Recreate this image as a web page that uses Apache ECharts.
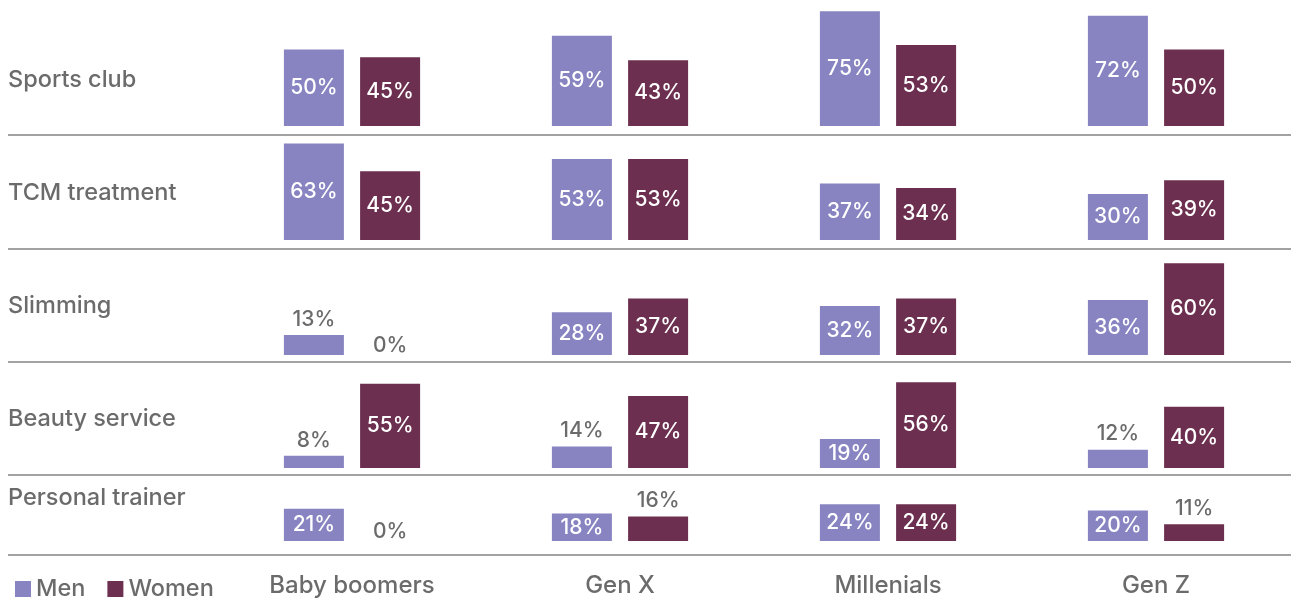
<!DOCTYPE html>
<html><head><meta charset="utf-8">
<script src="https://cdn.jsdelivr.net/npm/echarts@6/dist/echarts.min.js"></script>
<style>html,body{margin:0;padding:0;background:#fff}#c{width:1291px;height:598px}</style>
</head><body><div id="c"></div>
<script>
const generations = ['Baby boomers', 'Gen X', 'Millenials', 'Gen Z'];
const activities = ['Sports club', 'TCM treatment', 'Slimming', 'Beauty service', 'Personal trainer'];
const seriesNames = ['Men', 'Women'];
const menSportsClub = [50, 59, 75, 72];
const womenSportsClub = [45, 43, 53, 50];
const menTCM = [63, 53, 37, 30];
const womenTCM = [45, 53, 34, 39];
const menSlimming = [13, 28, 32, 36];
const womenSlimming = [0, 37, 37, 60];
const menBeauty = [8, 14, 19, 12];
const womenBeauty = [55, 47, 56, 40];
const menTrainer = [21, 18, 24, 20];
const womenTrainer = [0, 16, 24, 11];

const menRows = [menSportsClub, menTCM, menSlimming, menBeauty, menTrainer];
const womenRows = [womenSportsClub, womenTCM, womenSlimming, womenBeauty, womenTrainer];

const colors = ['#8784c1', '#6c2f4f'];
const gray = '#6b6b6b';
const FONT = 'Inter, "Open Sans", sans-serif';
const baselines = [126, 240, 355, 468, 541];
const lineYs = [135, 249, 362, 475, 555];
const labelYs = [80, 193, 306, 419, 498];
const YMAX = 80, PX = 1.53, H = YMAX * PX;

const grids = [], xAxes = [], yAxes = [], series = [], graphics = [];
baselines.forEach((b, i) => {
  grids.push({ left: 218, right: 1, top: b - H, height: H });
  const last = i === baselines.length - 1;
  xAxes.push({
    type: 'category', gridIndex: i, data: generations,
    axisLine: { show: false }, axisTick: { show: false },
    axisLabel: { show: last, margin: 33, fontSize: 24, fontWeight: 500, color: gray, fontFamily: FONT }
  });
  yAxes.push({ type: 'value', gridIndex: i, min: 0, max: YMAX, show: false, splitLine: { show: false } });
  [menRows[i], womenRows[i]].forEach((vals, s) => {
    series.push({
      name: seriesNames[s], type: 'bar', xAxisIndex: i, yAxisIndex: i,
      barWidth: 60, barGap: '27%',
      itemStyle: { color: colors[s] },
      data: vals.map(v => ({
        value: v,
        label: v < 17
          ? { show: true, position: 'top', distance: v === 0 ? -1 : 5, color: gray }
          : { show: true, position: 'inside', color: '#fff' }
      })),
      label: { show: true, formatter: '{c}%', fontSize: 21, fontWeight: 500, fontFamily: FONT },
      silent: true
    });
  });
  graphics.push({
    type: 'text', x: 8, y: labelYs[i],
    style: { text: activities[i], fontSize: 23.5, fontWeight: 500, fill: gray, fontFamily: FONT, verticalAlign: 'middle' }
  });
});
lineYs.forEach(y => {
  graphics.push({ type: 'line', shape: { x1: 8, y1: y, x2: 1291, y2: y }, style: { stroke: '#a3a3a3', lineWidth: 2 } });
});

const chart = echarts.init(document.getElementById('c'), null, { renderer: 'canvas' });
chart.setOption({
  animation: false,
  backgroundColor: '#fff',
  grid: grids, xAxis: xAxes, yAxis: yAxes, series: series,
  legend: {
    data: seriesNames, left: 10, top: 572, icon: 'rect', itemWidth: 16, itemHeight: 16, itemGap: 22,
    textStyle: { fontSize: 23.5, fontWeight: 500, color: gray, fontFamily: FONT }
  },
  graphic: graphics
});
</script></body></html>
